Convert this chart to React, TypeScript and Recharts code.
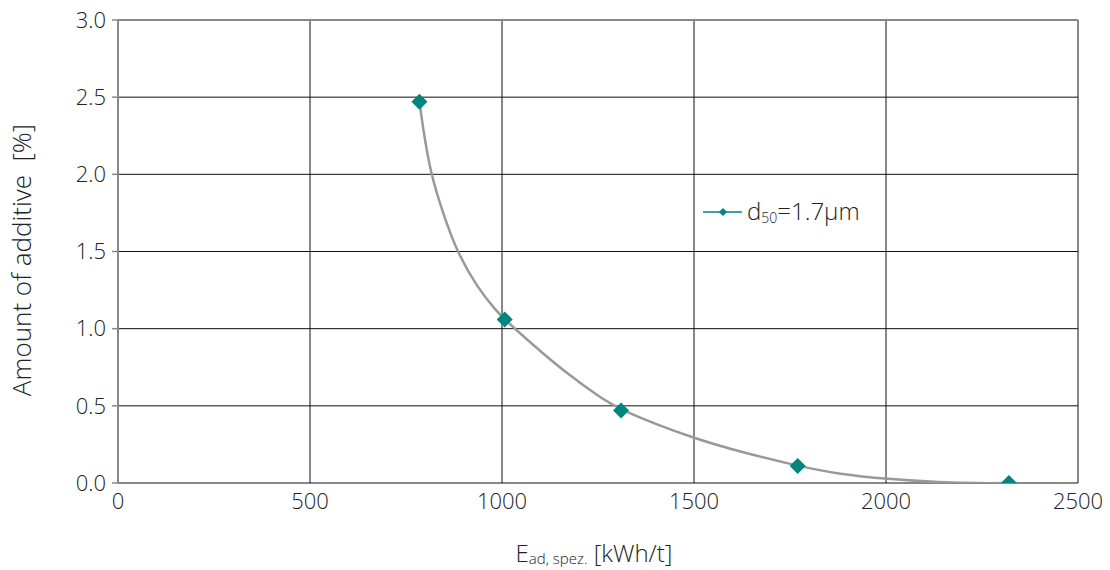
import { ComposedChart, Line, XAxis, YAxis, CartesianGrid, ReferenceLine } from 'recharts';

// measured points
const energy = [785, 1007, 1310, 1770, 2320];
const additive = [2.47, 1.06, 0.47, 0.11, 0.0];

// trend curve
const trendEnergy = [785, 797, 815, 845, 882, 937, 987, 1007, 1081, 1168, 1255, 1310, 1502, 1628, 1770, 1880, 2002, 2141, 2253, 2320];
const trendAdditive = [2.47, 2.255, 2.0, 1.758, 1.5, 1.261, 1.11, 1.06, 0.894, 0.711, 0.555, 0.47, 0.285, 0.198, 0.11, 0.056, 0.026, 0.004, -0.002, 0.0];

const xTicks = [0, 500, 1000, 1500, 2000, 2500];
const yTicks = [0, 0.5, 1.0, 1.5, 2.0, 2.5, 3.0];

const points = energy.map((e, i) => ({ e, v: additive[i] }));
const trend = trendEnergy.map((e, i) => ({ e, v: trendAdditive[i] }));

const TEAL = '#00857f';
const FONT = '"Open Sans", "DejaVu Sans", sans-serif';
const TEXT = '#222';

function Diamond({ cx, cy }: { cx?: number; cy?: number }) {
  if (cx == null || cy == null) return null;
  const r = 8;
  return (
    <path
      d={`M${cx},${cy - r}L${cx + r},${cy}L${cx},${cy + r}L${cx - r},${cy}Z`}
      fill={TEAL}
    />
  );
}

function XLabel({ viewBox }: { viewBox?: { x: number; y: number; width: number; height: number } }) {
  if (!viewBox) return null;
  const cx = viewBox.x + viewBox.width / 2;
  return (
    <text x={cx - 4} y={562} textAnchor="middle" fontFamily={FONT} fill={TEXT} fontSize={24} fontWeight={300}>
      E<tspan fontSize={15} dy={2}>ad, spez.</tspan>
      <tspan dy={-2}> [kWh/t]</tspan>
    </text>
  );
}

function YLabel() {
  return (
    <text
      x={31}
      y={260}
      transform="rotate(-90, 31, 260)"
      textAnchor="middle"
      fontFamily={FONT}
      fill={TEXT}
      fontSize={26}
      fontWeight={300}
    >
      {'Amount of additive\u00a0\u00a0[%]'}
    </text>
  );
}

export default function App() {
  return (
    <div style={{ position: 'absolute', left: 0, top: 0, width: 1110, height: 570, background: '#fff' }}>
      <ComposedChart width={1110} height={570} margin={{ top: 20, right: 32, left: 0, bottom: 0 }}>
        <CartesianGrid stroke="#111" strokeWidth={1} />
        <ReferenceLine y={3} stroke="#888" strokeWidth={2} />
        <XAxis
          dataKey="e"
          type="number"
          domain={[0, 2500]}
          ticks={xTicks}
          height={87}
          axisLine={false}
          tickLine={false}
          tickMargin={4}
          tick={{ fill: TEXT, fontSize: 22, fontFamily: FONT, fontWeight: 300 }}
          label={<XLabel />}
        />
        <YAxis
          type="number"
          domain={[0, 3]}
          ticks={yTicks}
          width={118}
          allowDataOverflow
          tickFormatter={(v: number) => v.toFixed(1)}
          axisLine={{ stroke: '#888', strokeWidth: 2 }}
          tickLine={{ stroke: '#888', strokeWidth: 1.5 }}
          tickSize={6}
          tickMargin={6}
          tick={{ fill: TEXT, fontSize: 22, fontFamily: FONT, fontWeight: 300 }}
          label={<YLabel />}
        />
        <Line
          data={trend}
          type="basis"
          dataKey="v"
          stroke="#999"
          strokeWidth={2.5}
          dot={false}
          activeDot={false}
          isAnimationActive={false}
        />
        <Line
          data={points}
          type="linear"
          dataKey="v"
          stroke="none"
          dot={<Diamond />}
          activeDot={false}
          isAnimationActive={false}
        />
        <g>
          <line x1={703} y1={212} x2={742} y2={212} stroke={TEAL} strokeWidth={1.5} />
          <path d="M723,208L727,212L723,216L719,212Z" fill={TEAL} />
          <text x={747} y={220} fontFamily={FONT} fontSize={24} fontWeight={300} fill={TEXT}>
            d<tspan fontSize={14} dy={3}>50</tspan>
            <tspan dy={-3}>=1.7µm</tspan>
          </text>
        </g>
      </ComposedChart>
    </div>
  );
}
